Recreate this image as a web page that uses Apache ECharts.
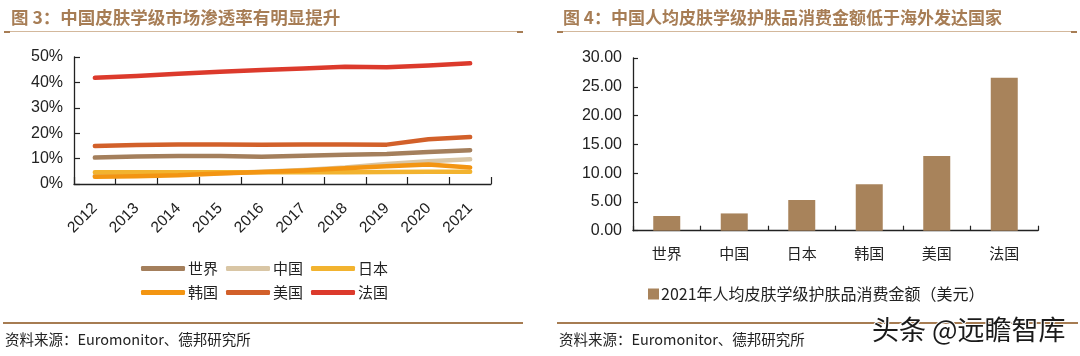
<!DOCTYPE html>
<html><head><meta charset="utf-8">
<script src="https://cdn.jsdelivr.net/npm/echarts@6/dist/echarts.min.js"></script>
<style>html,body{margin:0;padding:0;background:#fff}#c{width:1080px;height:356px}</style>
</head><body><div id="c"></div>
<script>
const years = ['2012','2013','2014','2015','2016','2017','2018','2019','2020','2021'];
const world  = [10.4,10.8,11.0,11.0,10.7,11.1,11.5,11.8,12.6,13.3];
const china  = [3.3,3.5,3.8,4.2,4.8,5.5,6.5,7.9,9.0,9.7];
const japan  = [4.6,4.6,4.6,4.6,4.6,4.6,4.6,4.7,4.8,4.8];
const korea  = [2.9,3.1,3.4,4.1,4.7,5.3,6.2,7.0,7.7,6.5];
const usa    = [15.0,15.4,15.6,15.6,15.5,15.6,15.6,15.5,17.6,18.5];
const france = [41.8,42.5,43.4,44.2,44.9,45.5,46.2,46.0,46.7,47.5];
const lineNames = ['世界','中国','日本','韩国','美国','法国'];
const lineColors = ['#a47f5c','#d9c6a5','#f2b32f','#f39512','#d2602a','#dc3a2c'];

const countries = ['世界','中国','日本','韩国','美国','法国'];
const spend = [2.55,3.0,5.33,8.05,12.97,26.56];
const spendName = '2021年人均皮肤学级护肤品消费金额（美元）';

const chart = echarts.init(document.getElementById('c'));
const sans = 'Liberation Sans, Arial, sans-serif';
const cjk = 'Noto Sans CJK SC';
const lineData = [world, china, japan, korea, usa, france];
const titleColor = '#a77d55';

const axisStyle = {lineStyle:{color:'#222',width:1.3}};
const tickIn = (len)=>({show:true,inside:true,length:len,lineStyle:{color:'#222',width:1.2}});
const lineSeries = lineNames.map((n,i)=>({
  name:n, type:'line', xAxisIndex:0, yAxisIndex:0, data:lineData[i],
  showSymbol:false, symbol:'none', lineStyle:{width:4.5,color:lineColors[i],cap:'round',join:'round'},
  itemStyle:{color:lineColors[i]}, smooth:false, z:2+i
}));

chart.setOption({
  animation:false,
  textStyle:{fontFamily:cjk},
  title:[
    {text:'图 3：中国皮肤学级市场渗透率有明显提升', left:6, top:4, textStyle:{fontSize:17.5,fontWeight:'bold',color:titleColor,fontFamily:cjk}},
    {text:'图 4：中国人均皮肤学级护肤品消费金额低于海外发达国家', left:558, top:4, textStyle:{fontSize:17,fontWeight:'bold',color:titleColor,fontFamily:cjk}}
  ],
  grid:[
    {left:74, top:57, width:417, height:127},
    {left:633, top:58, width:405, height:172.7}
  ],
  xAxis:[
    {type:'category', gridIndex:0, data:years, boundaryGap:true,
     axisLine:axisStyle, axisTick:tickIn(7),
     axisLabel:{rotate:45, fontSize:15.5, color:'#222', fontFamily:sans, margin:22, interval:0}},
    {type:'category', gridIndex:1, data:countries, boundaryGap:true,
     axisLine:axisStyle, axisTick:tickIn(5),
     axisLabel:{fontSize:15, color:'#222', fontFamily:cjk, margin:15, interval:0}}
  ],
  yAxis:[
    {type:'value', gridIndex:0, min:0, max:50, interval:10,
     axisLine:{show:true,...axisStyle}, axisTick:tickIn(6),
     splitLine:{show:false},
     axisLabel:{formatter:'{value}%', fontSize:16, color:'#222', fontFamily:sans, margin:11}},
    {type:'value', gridIndex:1, min:0, max:30, interval:5,
     axisLine:{show:true,...axisStyle}, axisTick:tickIn(5),
     splitLine:{show:false},
     axisLabel:{formatter:v=>v.toFixed(2), fontSize:16, color:'#222', fontFamily:sans, margin:11}}
  ],
  legend:[
    {data:lineNames.slice(0,3), left:136, top:256, itemWidth:44, itemHeight:5, itemGap:8, icon:'roundRect',
     textStyle:{fontSize:15,color:'#222',fontFamily:cjk, padding:[0,0,0,-2]}},
    {data:lineNames.slice(3), left:136, top:280, itemWidth:44, itemHeight:5, itemGap:8, icon:'roundRect',
     textStyle:{fontSize:15,color:'#222',fontFamily:cjk, padding:[0,0,0,-2]}},
    {data:[spendName], left:643, top:281, itemWidth:11, itemHeight:11, icon:'rect', itemGap:4,
     textStyle:{fontSize:16,color:'#222',fontFamily:cjk, padding:[0,0,0,-3]}}
  ],
  series:[
    ...lineSeries,
    {name:spendName, type:'bar', xAxisIndex:1, yAxisIndex:1, data:spend, barWidth:'40%',
     itemStyle:{color:'#a8835b'}}
  ],
  graphic:[
    {type:'rect', shape:{x:4,y:31,width:519,height:1}, style:{fill:'#d3b89c'}},
    {type:'rect', shape:{x:517,y:31,width:6,height:2}, style:{fill:'#a77d55'}},
    {type:'rect', shape:{x:4,y:31,width:6,height:2}, style:{fill:'#a77d55'}},
    {type:'rect', shape:{x:557,y:31,width:520,height:1}, style:{fill:'#d3b89c'}},
    {type:'rect', shape:{x:557,y:31,width:6,height:2}, style:{fill:'#a77d55'}},
    {type:'rect', shape:{x:1071,y:31,width:6,height:2}, style:{fill:'#a77d55'}},
    {type:'rect', shape:{x:3,y:322,width:520,height:2}, style:{fill:'#a67c52'}},
    {type:'rect', shape:{x:557,y:322,width:521,height:2}, style:{fill:'#a67c52'}},
    {type:'text', left:5, top:332, style:{text:'资料来源：Euromonitor、德邦研究所', fontSize:14.5, fill:'#222', fontFamily:cjk}},
    {type:'text', left:559, top:332, style:{text:'资料来源：Euromonitor、德邦研究所', fontSize:14.5, fill:'#222', fontFamily:cjk}},
    {type:'text', left:871, top:315, z:100, style:{text:'头条 @远瞻智库', fontSize:27, fill:'#1a1a1a', stroke:'#fff', lineWidth:2, fontFamily:cjk}}
  ]
});
</script></body></html>
